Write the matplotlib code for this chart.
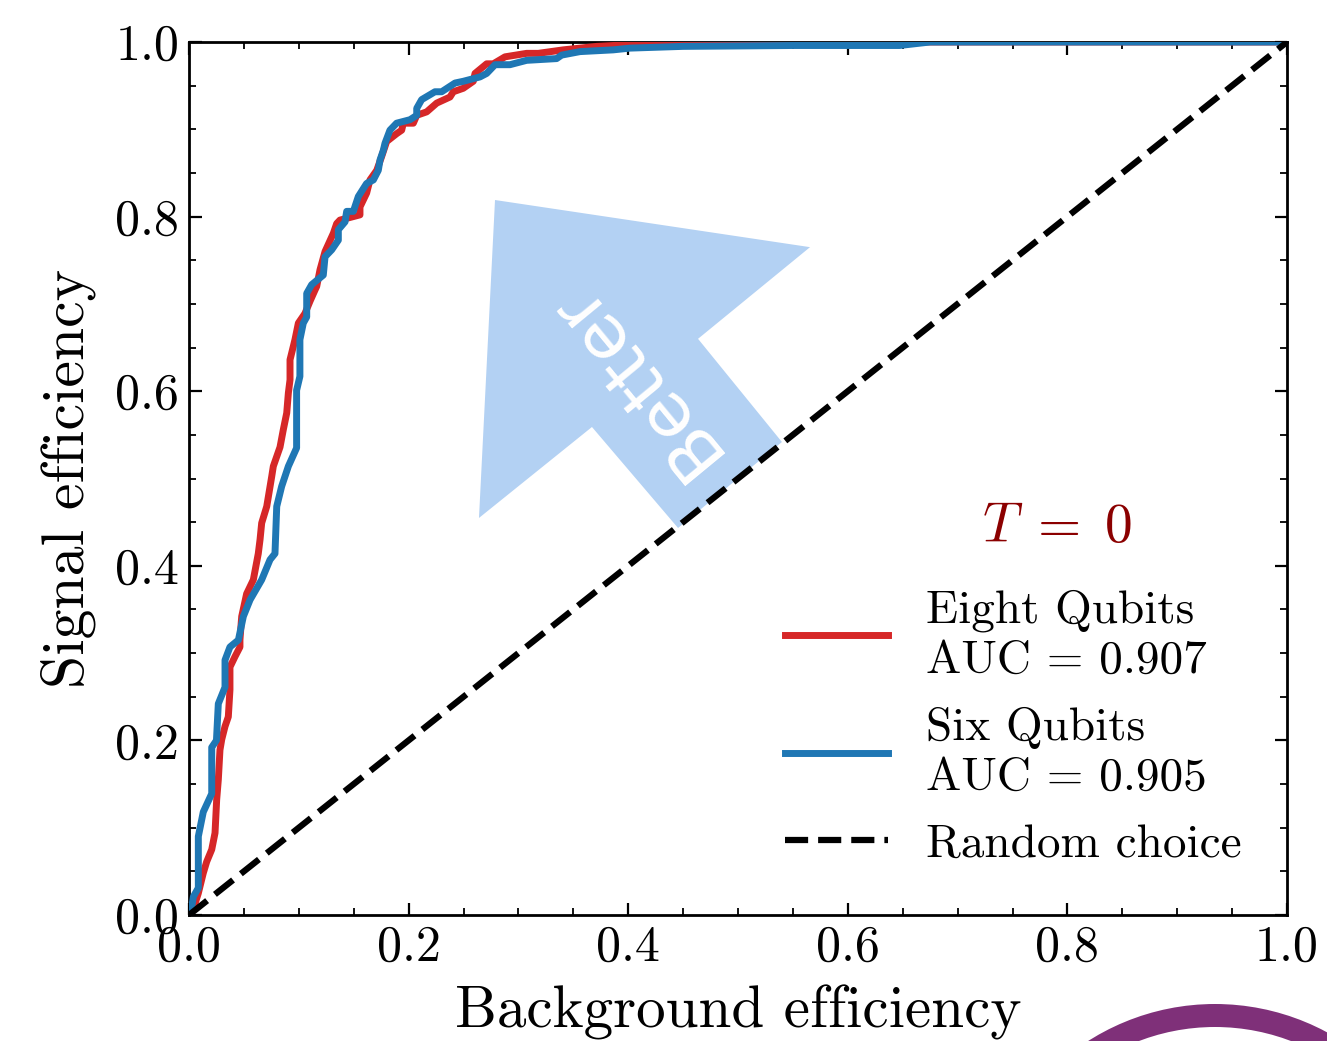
import matplotlib
matplotlib.use("Agg")
import matplotlib.pyplot as plt
from matplotlib.patches import Polygon, Wedge
from matplotlib.ticker import MultipleLocator, FormatStrFormatter

# ---------------- data ----------------
fpr_eight = [0, 0.0055, 0.0085, 0.013, 0.0161, 0.0207, 0.0237, 0.0252, 0.0267, 0.0282,
             0.0298, 0.0328, 0.0358, 0.0373, 0.0373, 0.0419, 0.0464, 0.0464, 0.048, 0.0525,
             0.0586, 0.0631, 0.0647, 0.0662, 0.0708, 0.0753, 0.0768, 0.0829, 0.0859, 0.089,
             0.0905, 0.092, 0.092, 0.0965, 0.0996, 0.1056, 0.1102, 0.1148, 0.1163, 0.1193,
             0.1239, 0.1315, 0.1345, 0.1375, 0.1557, 0.1557, 0.1618, 0.1648, 0.171, 0.1755,
             0.18, 0.1891, 0.1937, 0.1952, 0.2043, 0.2074, 0.2165, 0.2256, 0.2377, 0.2407,
             0.2498, 0.2589, 0.2605, 0.2711, 0.2771, 0.2878, 0.3075, 0.3181, 0.3409, 0.3713,
             0.4016, 0.47, 1.0]
tpr_eight = [0, 0.013, 0.025, 0.048, 0.061, 0.075, 0.094, 0.132, 0.155, 0.189,
             0.201, 0.216, 0.227, 0.258, 0.284, 0.296, 0.307, 0.315, 0.342, 0.368,
             0.384, 0.414, 0.430, 0.449, 0.468, 0.502, 0.514, 0.536, 0.556, 0.575,
             0.598, 0.613, 0.636, 0.659, 0.678, 0.689, 0.703, 0.716, 0.720, 0.739,
             0.760, 0.781, 0.792, 0.796, 0.802, 0.811, 0.827, 0.842, 0.853, 0.869,
             0.886, 0.895, 0.899, 0.907, 0.907, 0.916, 0.920, 0.930, 0.937, 0.943,
             0.947, 0.955, 0.964, 0.975, 0.975, 0.983, 0.987, 0.987, 0.991, 0.995,
             0.997, 1.0, 1.0]

fpr_six = [0, 0.0025, 0.004, 0.0085, 0.0085, 0.013, 0.0207, 0.0207, 0.025, 0.0267,
           0.0328, 0.0328, 0.0373, 0.045, 0.0495, 0.0556, 0.0662, 0.0738, 0.0783, 0.0799,
           0.0844, 0.0905, 0.098, 0.098, 0.101, 0.101, 0.1041, 0.1072, 0.1072, 0.1117,
           0.1223, 0.1239, 0.130, 0.136, 0.136, 0.1421, 0.1436, 0.1497, 0.1542, 0.1618,
           0.1679, 0.1724, 0.174, 0.177, 0.1785, 0.183, 0.1891, 0.2013, 0.2074, 0.2074,
           0.2119, 0.224, 0.2301, 0.2423, 0.2498, 0.265, 0.2711, 0.2787, 0.2923, 0.3075,
           0.3348, 0.3394, 0.3561, 0.3864, 0.4016, 0.45, 0.55, 0.647, 0.675, 1.0]
tpr_six = [0, 0.0095, 0.021, 0.031, 0.09, 0.118, 0.139, 0.192, 0.200, 0.242,
           0.261, 0.292, 0.307, 0.315, 0.342, 0.361, 0.384, 0.407, 0.414, 0.468,
           0.491, 0.514, 0.535, 0.601, 0.617, 0.659, 0.678, 0.685, 0.712, 0.722,
           0.733, 0.754, 0.762, 0.773, 0.785, 0.794, 0.806, 0.806, 0.823, 0.838,
           0.842, 0.853, 0.865, 0.876, 0.884, 0.899, 0.907, 0.911, 0.916, 0.924,
           0.934, 0.943, 0.943, 0.953, 0.955, 0.960, 0.964, 0.974, 0.974, 0.979,
           0.981, 0.985, 0.989, 0.991, 0.993, 0.995, 0.996, 0.996, 1.0, 1.0]

random_x = [0, 1]
random_y = [0, 1]

labels = ["Eight Qubits\nAUC = 0.907", "Six Qubits\nAUC = 0.905", "Random choice"]
ticks = [0.0, 0.2, 0.4, 0.6, 0.8, 1.0]

# arrow outline (data coords)
arrow_x = [0.2787, 0.5656, 0.4636, 0.540, 0.4454, 0.367, 0.2641]
arrow_y = [0.819, 0.765, 0.660, 0.5418, 0.4433, 0.559, 0.4548]

# ---------------- style ----------------
plt.rcParams['font.family'] = ['cmr10', 'DejaVu Serif']
plt.rcParams['mathtext.fontset'] = 'cm'
plt.rcParams['axes.formatter.use_mathtext'] = True

fig = plt.figure(figsize=(13.27, 10.41), dpi=100)
ax = fig.add_axes([189/1327, 126/1041, 1098/1327, 873/1041])

ax.add_patch(Polygon(list(zip(arrow_x, arrow_y)), closed=True,
                     facecolor='#b3d1f3', edgecolor='none', zorder=1))
ax.text(0.404, 0.616, "Better", family='DejaVu Sans', fontsize=52, color='white',
        rotation=129.5, ha='center', va='center', rotation_mode='anchor', zorder=2)

l1, = ax.plot(fpr_eight, tpr_eight, color='#d62728', lw=5, zorder=3)
l2, = ax.plot(fpr_six, tpr_six, color='#1f77b4', lw=5, zorder=4)
l3, = ax.plot(random_x, random_y, color='black', lw=4.5, ls='--', zorder=5)

ax.set_xlim(0, 1)
ax.set_ylim(0, 1)
ax.set_xticks(ticks)
ax.set_yticks(ticks)
ax.xaxis.set_major_formatter(FormatStrFormatter('%.1f'))
ax.yaxis.set_major_formatter(FormatStrFormatter('%.1f'))
ax.xaxis.set_minor_locator(MultipleLocator(0.05))
ax.yaxis.set_minor_locator(MultipleLocator(0.05))
ax.tick_params(which='both', direction='in', top=True, right=True)
ax.tick_params(which='major', length=9, width=1.6, labelsize=36, pad=7)
ax.tick_params(which='minor', length=5, width=1.3)
for s in ax.spines.values():
    s.set_linewidth(2.0)

ax.set_xlabel("Background efficiency", fontsize=42.5, labelpad=10)
ax.set_ylabel("Signal efficiency", fontsize=43, labelpad=14)

ax.text(0.79, 0.443, r"$T\;=\;0$", fontsize=40, color='#8b0000', ha='center', va='center')

leg = ax.legend([l1, l2, l3], labels, loc='upper left', frameon=False, fontsize=34,
                bbox_to_anchor=(742/1327, 1 - 547/1041), bbox_transform=fig.transFigure,
                handlelength=2.2, handletextpad=0.8, labelspacing=0.53)
for t in leg.get_texts():
    t.set_linespacing(1.25)

# purple arc partly visible at the bottom-right corner
fig.add_artist(Wedge((12.15, -1.99), 2.36, 0, 180, width=0.23,
                     transform=fig.dpi_scale_trans, facecolor='#7f3079',
                     edgecolor='none', clip_on=False))

fig.savefig("out.png", dpi=100)
